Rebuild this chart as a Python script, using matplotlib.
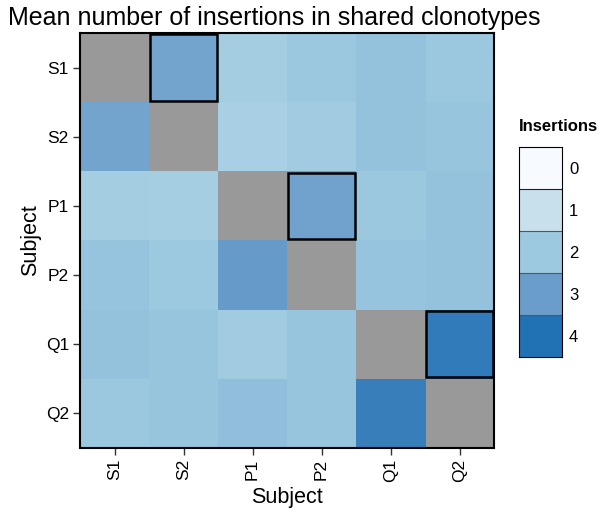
import numpy as np
import matplotlib.pyplot as plt
from matplotlib.colors import LinearSegmentedColormap
from matplotlib.patches import Rectangle

plt.rcParams['font.family'] = ['Liberation Sans', 'DejaVu Sans']

subjects = ['S1', 'S2', 'P1', 'P2', 'Q1', 'Q2']

# mean insertions per pair of subjects (row vs column), diagonal left empty
insertions = np.array([
    [np.nan, 2.85, 1.85, 2.05, 2.20, 2.05],
    [2.85, np.nan, 1.75, 1.95, 2.20, 2.10],
    [1.85, 1.80, np.nan, 2.90, 2.05, 2.20],
    [2.15, 2.00, 3.05, np.nan, 2.15, 2.20],
    [2.20, 2.10, 1.95, 2.10, np.nan, 3.75],
    [2.05, 2.10, 2.25, 2.10, 3.70, np.nan],
])

# pairs from the same individual get outlined
highlight = [('S1', 'S2'), ('P1', 'P2'), ('Q1', 'Q2')]

legend_levels = [0, 1, 2, 3, 4]
blues = ['#f7fbff', '#c9e1ec', '#9ecae1', '#6b9ecb', '#2171b5']
cmap = LinearSegmentedColormap.from_list('ins', blues)
cmap.set_bad('#999999')

fig = plt.figure(figsize=(6.08, 5.17), dpi=100)
ax = fig.add_axes([0.1316, 0.1335, 0.681, 0.8025])

ax.imshow(np.ma.masked_invalid(insertions), cmap=cmap, vmin=0, vmax=4,
          aspect='auto', interpolation='nearest')

for r, c in highlight:
    i, j = subjects.index(r), subjects.index(c)
    ax.add_patch(Rectangle((j - 0.48, i - 0.48), 0.96, 0.96, fill=False,
                           edgecolor='black', linewidth=1.8))

ax.set_xticks(range(len(subjects)))
ax.set_xticklabels(subjects, rotation=90, fontsize=12.5)
ax.set_yticks(range(len(subjects)))
ax.set_yticklabels(subjects, fontsize=12.5)
ax.tick_params(length=5, width=1, color='#333333', pad=3)
for s in ax.spines.values():
    s.set_linewidth(1.5)
ax.set_xlabel('Subject', fontsize=15.5, labelpad=3)
ax.set_ylabel('Subject', fontsize=15.5, labelpad=3)

fig.text(0.013, 0.988, 'Mean number of insertions in shared clonotypes',
         fontsize=18, ha='left', va='top')

# discrete legend keys
lax = fig.add_axes([0.8536, 0.31, 0.0707, 0.405])
lax.imshow(np.array(legend_levels).reshape(-1, 1), cmap=cmap, vmin=0, vmax=4,
           aspect='auto', interpolation='nearest')
for k in range(1, len(legend_levels)):
    lax.axhline(k - 0.5, color='#222222' if k == 1 else '#555555', linewidth=0.8)
lax.set_xticks([])
lax.set_yticks(range(len(legend_levels)))
lax.set_yticklabels([str(v) for v in legend_levels], fontsize=12)
lax.yaxis.tick_right()
lax.tick_params(axis='y', length=0, pad=5)
for s in lax.spines.values():
    s.set_linewidth(0.8)
lax.set_title('Insertions', fontsize=12, fontweight='bold', loc='left', pad=12)

fig.savefig('out.png', dpi=100)
